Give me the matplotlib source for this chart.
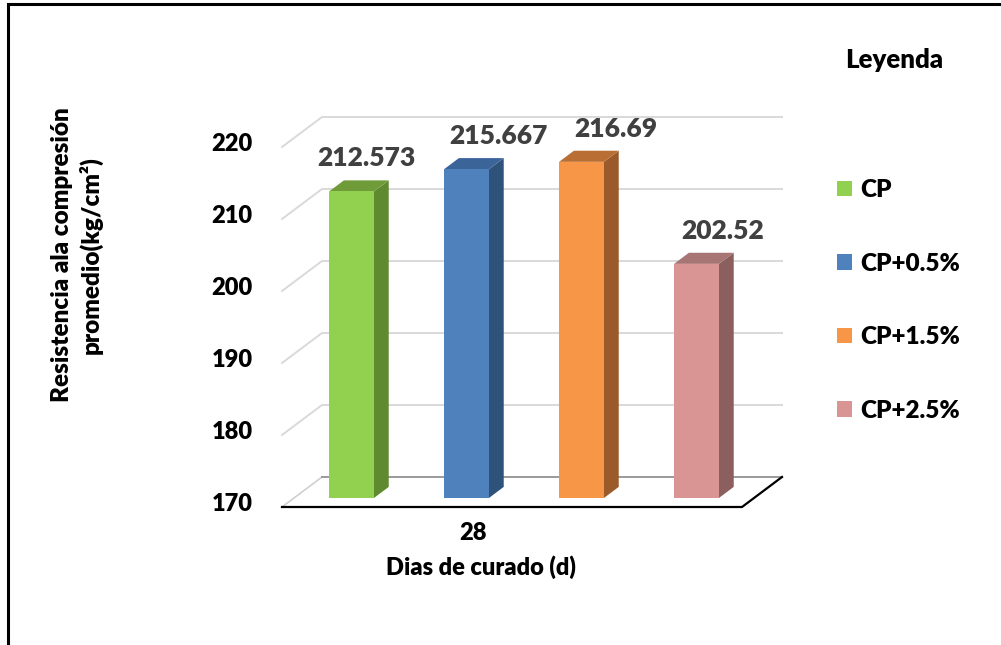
import numpy as np
import matplotlib
matplotlib.use("Agg")
import matplotlib.pyplot as plt
from matplotlib.patches import Polygon, Patch, Rectangle
from matplotlib.lines import Line2D
from matplotlib.transforms import IdentityTransform, ScaledTranslation

plt.rcParams['font.family'] = ['Lato', 'DejaVu Sans']
plt.rcParams['font.weight'] = 'heavy'
WT = 'heavy'

# Compressive strength at 28 days, one bar per mix
series = ['CP', 'CP+0.5%', 'CP+1.5%', 'CP+2.5%']
values = [212.573, 215.667, 216.69, 202.52]
value_labels = ['212.573', '215.667', '216.69', '202.52']
day_label = '28'
y_ticks = [170, 180, 190, 200, 210, 220]

front_colors = ['#92d050', '#4f81bd', '#f79646', '#d99594']
side_colors = ['#5f8a2f', '#2f527b', '#9a5a29', '#8c5f5f']
top_colors = ['#6f9b38', '#3b6598', '#b96f34', '#a87575']

W, H = 1001, 645
fig = plt.figure(figsize=(W / 100, H / 100), dpi=100)
fig.patch.set_facecolor('white')

# front plane of the 3-D box; axes drawn above the box so labels sit on top
ax = fig.add_axes([282 / W, (H - 507) / H, 460 / W, 360 / H])
ax.set_zorder(5)
ax.set_xlim(0, 4)
ax.set_ylim(170, 220)
ax.patch.set_visible(False)
for s in ax.spines.values():
    s.set_visible(False)

DEPTH = np.array([40.0, 30.0])   # pixel shift from front to back wall


def proj(x, v, d):
    p = ax.transData.transform((x, v))
    return p + d * DEPTH


def add_poly(pts, **kw):
    poly = Polygon(np.array(pts), closed=True, transform=IdentityTransform(), **kw)
    fig.add_artist(poly)


def add_line(pts, **kw):
    pts = np.array(pts)
    ln = Line2D(pts[:, 0], pts[:, 1], transform=IdentityTransform(), **kw)
    fig.add_artist(ln)


# gridlines: left wall diagonal + back wall horizontal
for v in y_ticks[1:]:
    add_line([proj(0, v, 0), proj(0, v, 1), proj(4, v, 1)],
             color='#d9d9d9', lw=1.4, zorder=1)

# floor
ymin = y_ticks[0]
add_poly([proj(0, ymin, 0), proj(0, ymin, 1), proj(4, ymin, 1), proj(4, ymin, 0)],
         facecolor='white', edgecolor='none', zorder=1)
add_line([proj(0, ymin, 0), proj(0, ymin, 1)], color='#d0d0d0', lw=1.2, zorder=1.1)
add_line([proj(0, ymin, 1), proj(4, ymin, 1)], color='#9a9a9a', lw=1.4, zorder=1.1)
add_line([proj(0, ymin, 0), proj(4, ymin, 0), proj(4, ymin, 1)],
         color='black', lw=1.6, zorder=1.2)

# bars
bw = 0.39
d0, d1 = 0.3, 0.67
label_dx = [15, 32, 34, 26]
for i, v in enumerate(values):
    xc = i + 0.5
    x0, x1 = xc - bw / 2, xc + bw / 2
    add_poly([proj(x1, ymin, d0), proj(x1, ymin, d1), proj(x1, v, d1), proj(x1, v, d0)],
             facecolor=side_colors[i], edgecolor='none', zorder=2)
    add_poly([proj(x0, v, d0), proj(x1, v, d0), proj(x1, v, d1), proj(x0, v, d1)],
             facecolor=top_colors[i], edgecolor='none', zorder=2)
    add_poly([proj(x0, ymin, d0), proj(x1, ymin, d0), proj(x1, v, d0), proj(x0, v, d0)],
             facecolor=front_colors[i], edgecolor='none', zorder=2.1)
    # value label
    ax.annotate(value_labels[i], xy=(xc, v), xycoords='data',
                xytext=((label_dx[i] + 12) * 0.72, (33 + 9) * 0.72),
                textcoords='offset points',
                ha='center', va='center', fontsize=19, fontweight=WT,
                color='#404040', annotation_clip=False)

# axes ticks
ax.set_yticks(y_ticks)
ax.set_yticklabels([str(t) for t in y_ticks], fontsize=17, fontweight=WT)
ax.tick_params(axis='y', length=0, pad=21)
for lab in ax.get_yticklabels():
    lab.set_transform(lab.get_transform() + ScaledTranslation(0, 0.05, fig.dpi_scale_trans))
ax.set_xticks([1.66])
ax.set_xticklabels([day_label], fontsize=17, fontweight=WT)
ax.tick_params(axis='x', length=0, pad=11)

fig.text(481 / W, 1 - 567 / H, 'Dias de curado (d)', ha='center', va='center',
         fontsize=17, fontweight=WT)
fig.text(77 / W, 1 - 255 / H, 'Resistencia ala compresión\npromedio(kg/cm²)',
         ha='center', va='center', rotation=90, fontsize=17.5, fontweight=WT,
         linespacing=1.25, multialignment='center')
fig.text(894 / W, 1 - 60 / H, 'Leyenda', ha='center', va='center',
         fontsize=18.5, fontweight=WT)

handles = [Patch(facecolor=c, edgecolor='none') for c in front_colors]
fs = 17.5
em = fs * 100 / 72
fig.legend(handles, series, loc='upper left', bbox_to_anchor=(837 / W, 1 - 179 / H),
           frameon=False, prop={'weight': WT, 'size': fs},
           borderpad=0, borderaxespad=0, handlelength=15 / em, handleheight=15 / em,
           handletextpad=8 / em, labelspacing=2.12)

# outer frame
fig.add_artist(Rectangle((8 / W, -0.1), 1.2, 1.1 - 4 / H, transform=fig.transFigure,
                         fill=False, edgecolor='black', lw=2.2, clip_on=False))

fig.savefig('out.png', dpi=100)
